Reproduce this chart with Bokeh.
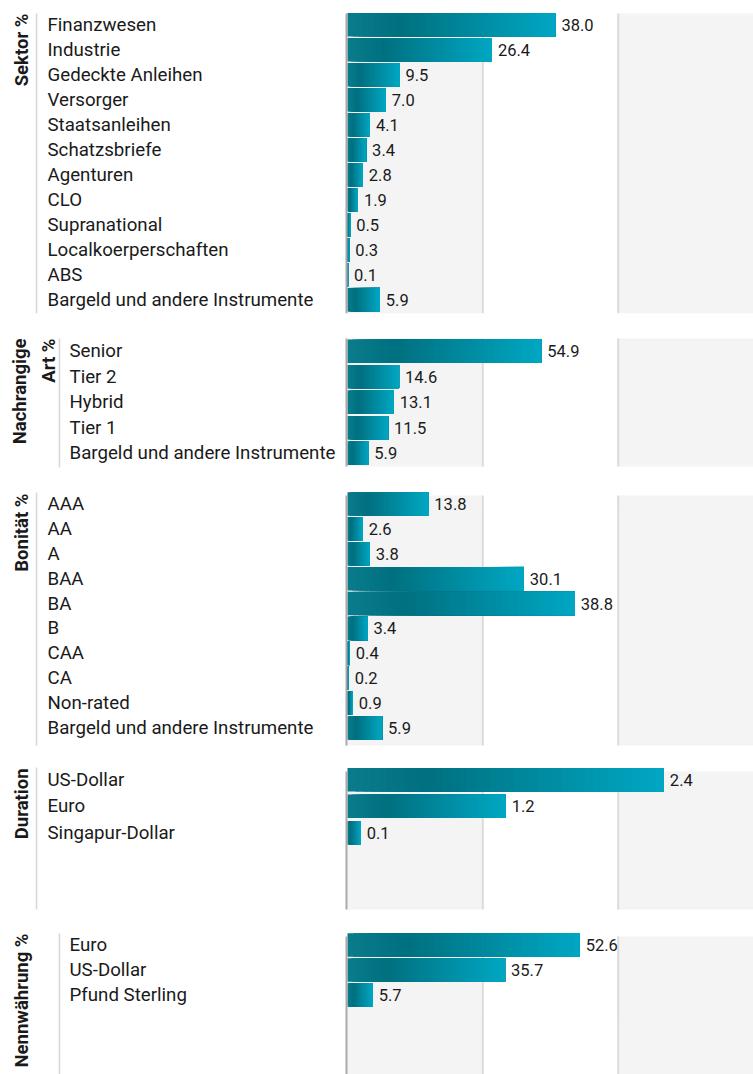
import math
from bokeh.plotting import figure
from bokeh.layouts import column
from bokeh.models import Range1d
from bokeh.core.properties import value
from bokeh.embed import file_html
from bokeh.resources import INLINE

# ---------------- data ----------------
sektor_labels = ["Finanzwesen", "Industrie", "Gedeckte Anleihen", "Versorger", "Staatsanleihen",
                 "Schatzsbriefe", "Agenturen", "CLO", "Supranational", "Localkoerperschaften",
                 "ABS", "Bargeld und andere Instrumente"]
sektor_values = [38.0, 26.4, 9.5, 7.0, 4.1, 3.4, 2.8, 1.9, 0.5, 0.3, 0.1, 5.9]

art_labels = ["Senior", "Tier 2", "Hybrid", "Tier 1", "Bargeld und andere Instrumente"]
art_values = [54.9, 14.6, 13.1, 11.5, 5.9]

bonitaet_labels = ["AAA", "AA", "A", "BAA", "BA", "B", "CAA", "CA", "Non-rated",
                   "Bargeld und andere Instrumente"]
bonitaet_values = [13.8, 2.6, 3.8, 30.1, 38.8, 3.4, 0.4, 0.2, 0.9, 5.9]

duration_labels = ["US-Dollar", "Euro", "Singapur-Dollar"]
duration_values = [2.4, 1.2, 0.1]

waehrung_labels = ["Euro", "US-Dollar", "Pfund Sterling"]
waehrung_values = [52.6, 35.7, 5.7]

titles = ["Sektor %", "Nachrangige\nArt %", "Bonität %", "Duration", "Nennwährung %"]
axis_max = [74.2, 115.0, 69.3, 3.08, 92.0]

# ---------------- layout / style ----------------
FONT = "Roboto"
TEXT_COLOR = "#1a1a1a"
PAGE_LEFT, PAGE_RIGHT = 0, 753
ZERO_PX, REF_RIGHT = 347, 753
STOPS = [(0.0, (0x0a, 0x7c, 0x8c)), (0.25, (0x00, 0x70, 0x80)), (1.0, (0x00, 0xa7, 0xc3))]
N_SLICES = 40
BAR_H = 23.5

layouts = [
    dict(fig_top=0, fig_h=325, rows_top=11.7, pitch=25.0, band=(13, 312.7), label_x=47,
         border_x=36, border=(13, 312.7), title_x=21.5, title_top=13),
    dict(fig_top=325, fig_h=153, rows_top=338.0, pitch=25.5, band=(338, 466), label_x=69,
         border_x=59, border=(338, 467), title_x=34, title_top=338),
    dict(fig_top=478, fig_h=278, rows_top=491.0, pitch=24.9, band=(495, 745), label_x=47,
         border_x=36, border=(492, 745), title_x=21.5, title_top=493),
    dict(fig_top=756, fig_h=166, rows_top=766.0, pitch=26.5, band=(771, 909), label_x=47,
         border_x=36, border=(767, 909), title_x=21.5, title_top=768),
    dict(fig_top=922, fig_h=152, rows_top=932.0, pitch=25.0, band=(936, 1080), label_x=69,
         border_x=59, border=(933, 1080), title_x=21.5, title_top=933),
]


def grad(t):
    for (t0, c0), (t1, c1) in zip(STOPS[:-1], STOPS[1:]):
        if t0 <= t <= t1:
            f = (t - t0) / (t1 - t0)
            c = [round(a + (b - a) * f) for a, b in zip(c0, c1)]
            return "#%02x%02x%02x" % tuple(c)
    return "#%02x%02x%02x" % STOPS[-1][1]


def make_panel(title, labels, values, rmax, L):
    k = (REF_RIGHT - ZERO_PX) / rmax          # px per unit
    P = L["pitch"]

    def xd(px):
        return (px - ZERO_PX) / k

    def yd(py):
        return (py - L["rows_top"]) / P - 0.5

    fig_bottom = L["fig_top"] + L["fig_h"]
    p = figure(width=PAGE_RIGHT - PAGE_LEFT, height=L["fig_h"],
               x_range=Range1d(xd(PAGE_LEFT), xd(PAGE_RIGHT)),
               y_range=Range1d(yd(fig_bottom), yd(L["fig_top"])),
               x_axis_location=None, y_axis_location=None,
               output_backend="svg", toolbar_location=None, min_border=0,
               outline_line_color=None, background_fill_color="white",
               border_fill_color="white")
    p.grid.visible = False

    bt, bb = yd(L["band"][0]), yd(L["band"][1])
    # alternating background bands
    p.quad(left=[0, 2 * rmax / 3], right=[rmax / 3, rmax], top=[bt, bt], bottom=[bb, bb],
           fill_color="#f4f4f4", line_color=None)
    p.segment(x0=[rmax / 3, 2 * rmax / 3], x1=[rmax / 3, 2 * rmax / 3], y0=[bt, bt], y1=[bb, bb],
              line_color="#dcdcdc", line_width=2)
    # left separator line
    p.segment(x0=[xd(L["border_x"])], x1=[xd(L["border_x"])],
              y0=[yd(L["border"][0])], y1=[yd(L["border"][1])],
              line_color="#d6d6d6", line_width=1.5)

    # gradient bars: overlapping slices, each running to the bar end
    n = len(values)
    h = BAR_H / P
    lefts, rights, tops, bottoms, colors = [], [], [], [], []
    for i, v in enumerate(values):
        for j in range(N_SLICES):
            lefts.append(v * j / N_SLICES)
            rights.append(v)
            tops.append(i - h / 2)
            bottoms.append(i + h / 2)
            colors.append(grad((j + 0.5) / N_SLICES))
    p.quad(left=lefts, right=rights, top=tops, bottom=bottoms, fill_color=colors,
           line_color=None)

    # zero axis line
    p.segment(x0=[xd(ZERO_PX - 1)], x1=[xd(ZERO_PX - 1)], y0=[yd(L["band"][0])],
              y1=[yd(L["band"][1])], line_color="#a9a9a9", line_width=2)

    rows = list(range(n))
    p.text(x=[xd(L["label_x"])] * n, y=rows, text=labels, text_font=value(FONT),
           text_font_size="18.7px", text_baseline="middle", text_align="left",
           text_color=TEXT_COLOR)
    p.text(x=values, y=rows, text=["%.1f" % v for v in values], x_offset=6,
           text_font=value(FONT), text_font_size="16.5px", text_baseline="middle",
           text_align="left", text_color=TEXT_COLOR)
    p.text(x=[xd(L["title_x"])], y=[yd(L["title_top"])], text=[title], angle=math.pi / 2,
           text_font=value(FONT), text_font_style="bold", text_font_size="18.5px",
           text_align="right", text_baseline="middle", text_line_height=1.3,
           text_color=TEXT_COLOR)
    return p


panels = [
    make_panel(titles[0], sektor_labels, sektor_values, axis_max[0], layouts[0]),
    make_panel(titles[1], art_labels, art_values, axis_max[1], layouts[1]),
    make_panel(titles[2], bonitaet_labels, bonitaet_values, axis_max[2], layouts[2]),
    make_panel(titles[3], duration_labels, duration_values, axis_max[3], layouts[3]),
    make_panel(titles[4], waehrung_labels, waehrung_values, axis_max[4], layouts[4]),
]

p = column(*panels, spacing=0)
open("out.html", "w").write(file_html(p, INLINE))
